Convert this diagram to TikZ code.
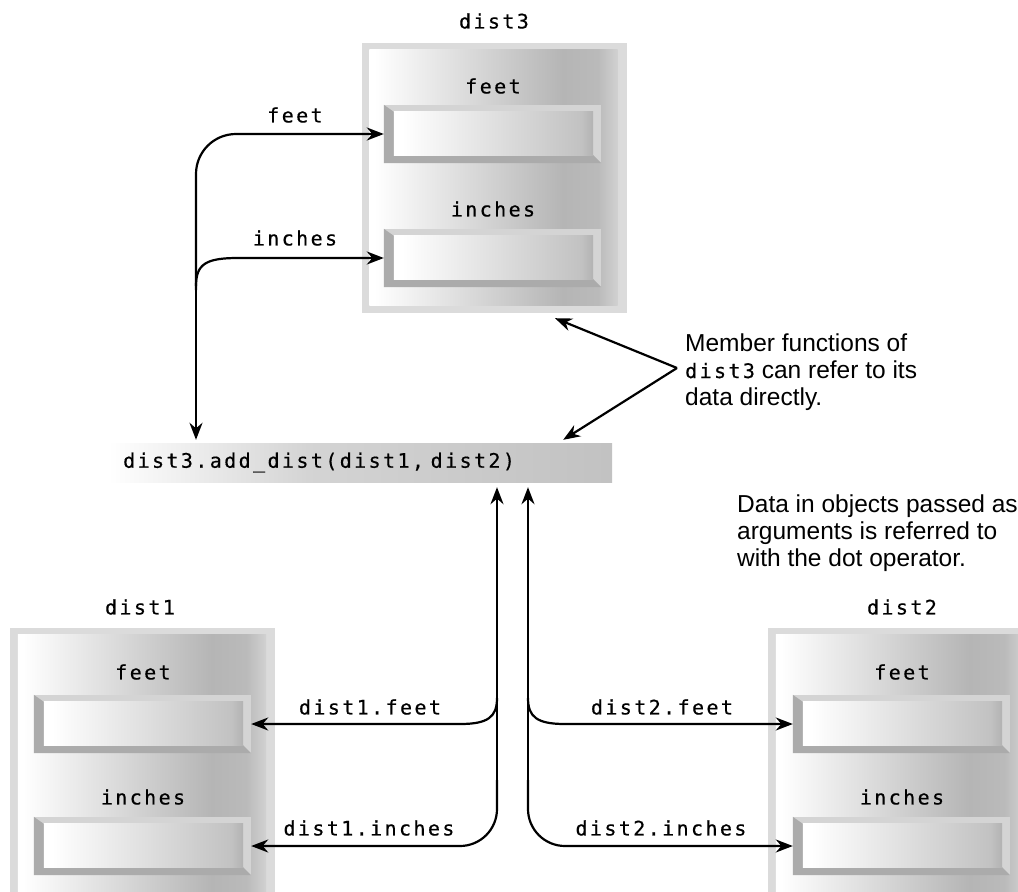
\documentclass[tikz,border=0pt]{standalone}
\usepackage{fontspec}
\setmainfont{Liberation Sans}
\newfontfamily\codefont[LetterSpace=12,FakeBold=0.5]{DejaVu Sans Mono}
\usetikzlibrary{arrows.meta,calc}
\pgfdeclarehorizontalshading{boxshade}{100bp}{color(0bp)=(white); color(26bp)=(white); color(64bp)=(black!29); color(71bp)=(black!27); color(75bp)=(black!18); color(100bp)=(black!18)}
\pgfdeclarehorizontalshading{fieldshade}{100bp}{color(0bp)=(white); color(27bp)=(white); color(72bp)=(black!24); color(75bp)=(black!30); color(100bp)=(black!30)}
\pgfdeclarehorizontalshading{barshade}{100bp}{color(0bp)=(white); color(25bp)=(white); color(45bp)=(black!17); color(75bp)=(black!24); color(100bp)=(black!24)}
\tikzset{
  objbox/.style={fill=black!14, draw=none, inner sep=0pt, minimum width=265pt},
  field/.style={fill=black!17, draw=none, inner sep=0pt, minimum width=217pt, minimum height=58pt},
  codelbl/.style={font=\codefont\fontsize{20}{24}\selectfont, inner sep=0pt},
  note/.style={font=\fontsize{24.5}{27}\selectfont, align=left, inner sep=0pt},
  callbar/.style={shade, shading=barshade, draw=none, minimum width=504pt, minimum height=39pt, text width=474pt, inner xsep=15pt, inner ysep=0pt, align=left, font=\codefont\fontsize{20}{24}\selectfont},
  conn/.style={draw, line width=2.2pt, -{Stealth[length=17pt,width=13pt]}},
}
\newcommand{\boxinner}[1]{\shade[shading=boxshade] ([shift={(8pt,-7pt)}]#1.north west) rectangle ([shift={(-9pt,8pt)}]#1.south east);}
\newcommand{\fieldinner}[1]{%
  \fill[black!33] (#1.north west) -- (#1.south west) -- (#1.south east) -- ([shift={(-8pt,8pt)}]#1.south east) -- ([shift={(10pt,8pt)}]#1.south west) -- ([shift={(10pt,-7pt)}]#1.north west) -- cycle;
  \shade[shading=fieldshade] ([shift={(10pt,-7pt)}]#1.north west) rectangle ([shift={(-8pt,8pt)}]#1.south east);}
\begin{document}
\begin{tikzpicture}[x=1pt,y=-1pt]
\useasboundingbox (0,0) rectangle (1018,892);
\clip (0,0) rectangle (1018,892);
% dist3 object
\node[objbox, minimum height=270pt] (d3) at (494,178) {};
\boxinner{d3}
\node[codelbl] (d3name) at (494,21) {dist3};
\node[codelbl] (d3feetlbl) at (493,86) {feet};
\node[field] (d3feet) at (492.5,134) {};
\fieldinner{d3feet}
\node[codelbl] (d3inchlbl) at (493,209) {inches};
\node[field] (d3inches) at (492.5,258) {};
\fieldinner{d3inches}
% dist1 object
\node[objbox, minimum height=290pt] (d1) at (142.5,773) {};
\boxinner{d1}
\node[codelbl] (d1name) at (140,607) {dist1};
\node[codelbl] (d1feetlbl) at (143,672) {feet};
\node[field] (d1feet) at (142.5,724) {};
\fieldinner{d1feet}
\node[codelbl] (d1inchlbl) at (143,797) {inches};
\node[field] (d1inches) at (142.5,846) {};
\fieldinner{d1inches}
% dist2 object
\node[objbox, minimum height=290pt] (d2) at (900.5,773) {};
\boxinner{d2}
\node[codelbl] (d2name) at (902,607) {dist2};
\node[codelbl] (d2feetlbl) at (902,672) {feet};
\node[field] (d2feet) at (901.5,724) {};
\fieldinner{d2feet}
\node[codelbl] (d2inchlbl) at (902,797) {inches};
\node[field] (d2inches) at (901.5,846) {};
\fieldinner{d2inches}
% call bar
\node[callbar, anchor=west] (call) at (108,462.5) {dist3.add\_dist(dist1, dist2)};
% left bus to dist3
\coordinate (lb) at (196,290);
\draw[conn] (lb) -- ([yshift=3pt]call.north -| lb);
\draw[conn, rounded corners=40pt] (lb) |- (d3feet.west);
\draw[conn] (196,286) .. controls (196,264) and (206,258) .. (238,258) -- (d3inches.west);
\node[codelbl] (lfeet) at (295,115) {feet};
\node[codelbl] (linch) at (295,238) {inches};
% bus to dist1
\coordinate (b1) at (497,780);
\draw[conn] (b1) -- ([yshift=-5pt]call.south -| b1);
\draw[conn, rounded corners=37pt] (b1) |- (d1inches.east);
\draw[conn] (497,698) .. controls (497,717) and (488,724) .. (460,724) -- (d1feet.east);
\node[codelbl] (l1feet) at (370,707) {dist1.feet};
\node[codelbl] (l1inch) at (369,828) {dist1.inches};
% bus to dist2
\coordinate (b2) at (528,780);
\draw[conn] (b2) -- ([yshift=-5pt]call.south -| b2);
\draw[conn, rounded corners=37pt] (b2) |- (d2inches.west);
\draw[conn] (528,698) .. controls (528,717) and (537,724) .. (565,724) -- (d2feet.west);
\node[codelbl] (l2feet) at (662,707) {dist2.feet};
\node[codelbl] (l2inch) at (661,828) {dist2.inches};
% annotations
\coordinate (m) at (677,368);
\draw[conn] (m) -- ($(d3.south)+(61,5)$);
\draw[conn] (m) -- ($(call.north)+(203,-3)$);
\node[note, anchor=base west] (n1) at (685,405) {Member functions of\\{\codefont\fontsize{20}{27}\selectfont dist3} can refer to its\\data directly.};
\node[note, anchor=base west] (n2) at (737,566) {Data in objects passed as\\arguments is referred to\\with the dot operator.};
\end{tikzpicture}
\end{document}
